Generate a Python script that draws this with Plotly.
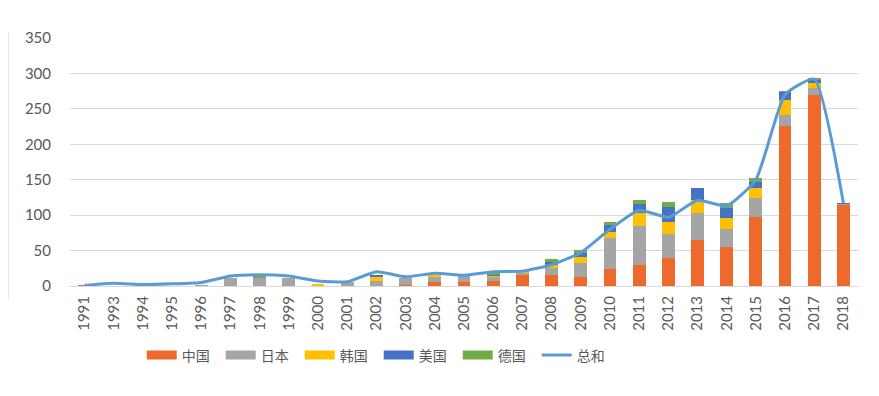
import plotly.graph_objects as go

years = ['1991', '1993', '1994', '1995', '1996', '1997', '1998', '1999', '2000', '2001',
         '2002', '2003', '2004', '2005', '2006', '2007', '2008', '2009', '2010', '2011',
         '2012', '2013', '2014', '2015', '2016', '2017', '2018']

china   = [1, 0, 0, 0, 0, 0, 0, 0, 1, 0, 0, 2, 5, 5, 7, 15, 15, 13, 24, 30, 40, 65, 55, 98, 226, 269, 115]
japan   = [0, 0, 0, 0, 1, 11, 12, 12, 0, 5, 7, 10, 8, 9, 6, 4, 11, 20, 44, 54, 33, 38, 26, 26, 15, 10, 1]
korea   = [0, 0, 0, 0, 0, 0, 0, 0, 2, 0, 7, 0, 3, 0, 2, 1, 3, 8, 8, 19, 18, 19, 15, 15, 22, 7, 0]
usa     = [0, 0, 0, 0, 0, 0, 0, 0, 0, 0, 2, 0, 0, 0, 1, 0, 5, 6, 10, 13, 20, 16, 14, 8, 11, 6, 1]
germany = [0, 0, 0, 0, 0, 0, 1, 0, 0, 0, 0, 0, 0, 0, 1, 0, 4, 4, 4, 5, 7, 0, 7, 6, 1, 2, 0]
total   = [1, 4, 2, 3, 5, 14, 16, 14, 7, 6, 20, 13, 18, 15, 20, 21, 30, 47, 80, 107, 97, 121, 113, 150, 270, 292, 117]

y_ticks = [0, 50, 100, 150, 200, 250, 300, 350]

series = [
    ('中国', china, '#ED6A2C'),
    ('日本', japan, '#A5A5A5'),
    ('韩国', korea, '#FFC000'),
    ('美国', usa, '#4472C4'),
    ('德国', germany, '#70AD47'),
]

fig = go.Figure()
for name, vals, col in series:
    fig.add_trace(go.Bar(x=years, y=vals, name=name, showlegend=False,
                         legendgroup=name, marker=dict(color=col, line=dict(width=0))))

fig.add_trace(go.Scatter(x=years, y=total, name='总和', mode='lines', showlegend=False,
                         legendgroup='总和',
                         line=dict(color='#5B9BD5', width=3, shape='spline', smoothing=0.5)))

# legend entries (wide rectangular swatches like the original)
for name, vals, col in series:
    fig.add_trace(go.Scatter(x=[years[0]], y=[None], name=name, mode='lines', legendgroup=name,
                             line=dict(color=col, width=9)))
fig.add_trace(go.Scatter(x=[years[0]], y=[None], name='总和', mode='lines', legendgroup='总和',
                         line=dict(color='#5B9BD5', width=3)))

tick_font = dict(family='Lato, Noto Sans, sans-serif', size=15, color='#595959')

fig.update_layout(
    width=879, height=396,
    margin=dict(l=62, r=29, t=30, b=118),
    barmode='stack',
    bargap=0.56,
    plot_bgcolor='white',
    paper_bgcolor='white',
    font=dict(family='Noto Sans CJK SC, sans-serif', color='#595959'),
    legend=dict(orientation='h', x=0.091, xanchor='left', y=-0.28, yanchor='middle',
                font=dict(family='Noto Sans CJK SC', size=14, color='#595959'),
                entrywidth=34, entrywidthmode='pixels', traceorder='normal'),
    xaxis=dict(type='category', tickangle=-90, tickfont=tick_font, showgrid=False,
               showline=True, linecolor='#D9D9D9', linewidth=1, ticks='',
               ticklabelstandoff=3),
    yaxis=dict(range=[0, 350], tickvals=y_ticks, tickfont=tick_font, gridcolor='#D9D9D9',
               gridwidth=1, zeroline=False, showline=False, ticks='', ticklabelstandoff=18),
    shapes=[dict(type='line', xref='paper', yref='paper', x0=-0.079, x1=-0.079,
                 y0=1.024, y1=-0.056, line=dict(color='#9A9A9A', width=1))],
)

fig.write_html('out.html')
